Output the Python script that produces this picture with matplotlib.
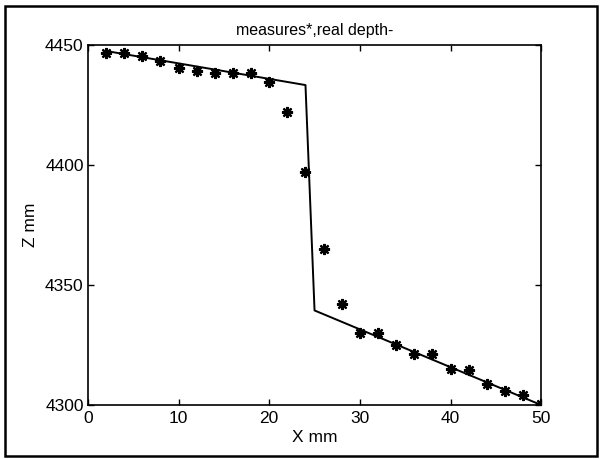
import matplotlib
matplotlib.use("Agg")
import matplotlib.pyplot as plt
from matplotlib.patches import Rectangle

# measured points (stars)
x_meas = [2, 4, 6, 8, 10, 12, 14, 16, 18, 20, 22, 24, 26, 28,
          30, 32, 34, 36, 38, 40, 42, 44, 46, 48, 50]
z_meas = [4446.5, 4446.5, 4445.5, 4443.5, 4440.3, 4439.3, 4438.5, 4438.5, 4438.5,
          4434.5, 4422.2, 4397.2, 4364.9, 4342.0,
          4329.9, 4329.9, 4325.0, 4321.1, 4321.1, 4314.9, 4314.6, 4308.6,
          4305.8, 4304.2, 4300.5]

# real depth profile (line)
x_real = [2, 24, 25, 50]
z_real = [4447.5, 4433.3, 4339.4, 4300]

plt.rcParams['font.family'] = ['Liberation Sans', 'DejaVu Sans']

fig = plt.figure(figsize=(6.02, 4.59), dpi=100)
ax = fig.add_axes([0.146, 0.1176, 0.753, 0.7844])

ax.plot(x_real, z_real, color='black', linewidth=1.4)
ax.plot(x_meas, z_meas, linestyle='none', marker=(8, 2, 0), markersize=8,
        markeredgewidth=1.6, color='black', clip_on=True)

ax.set_xlim(0, 50)
ax.set_ylim(4300, 4450)
ax.set_xticks([0, 10, 20, 30, 40, 50])
ax.set_yticks([4300, 4350, 4400, 4450])
ax.tick_params(direction='in', top=True, right=True, length=4, width=1,
               labelsize=12.5)
ax.tick_params(axis='x', pad=4.5)
ax.tick_params(axis='y', pad=3)
for s in ax.spines.values():
    s.set_linewidth(1.2)

ax.set_title('measures*,real depth-', fontsize=11.5, pad=7)
ax.set_xlabel('X mm', fontsize=12.5, labelpad=3)
ax.set_ylabel('Z mm', fontsize=12.5, labelpad=5)

# outer frame
fig.patches.append(Rectangle((0.009, 0.006), 0.983, 0.982, transform=fig.transFigure,
                             fill=False, edgecolor='black', linewidth=1.8))

fig.savefig('out.png', dpi=100)
